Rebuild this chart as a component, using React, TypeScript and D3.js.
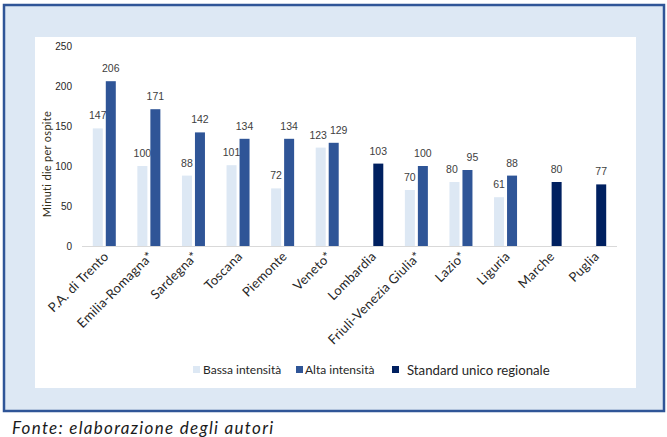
import * as d3 from 'd3';

const categories = [
  'P.A. di Trento',
  'Emilia-Romagna*',
  'Sardegna*',
  'Toscana',
  'Piemonte',
  'Veneto*',
  'Lombardia',
  'Friuli-Venezia Giulia*',
  'Lazio*',
  'Liguria',
  'Marche',
  'Puglia',
];
const bassaIntensita: (number | null)[] = [147, 100, 88, 101, 72, 123, null, 70, 80, 61, null, null];
const altaIntensita: (number | null)[] = [206, 171, 142, 134, 134, 129, null, 100, 95, 88, null, null];
const standardUnico: (number | null)[] = [null, null, null, null, null, null, 103, null, null, null, 80, 77];
const yTicks = [0, 50, 100, 150, 200, 250];
const legendItems = [
  { label: 'Bassa intensità', color: '#dde8f4', x: 193, textX: 203, size: 12 },
  { label: 'Alta intensità', color: '#2f5597', x: 296, textX: 305, size: 12 },
  { label: 'Standard unico regionale', color: '#002060', x: 392, textX: 407, size: 13.2 },
];

const W = 667;
const H = 437;
const labelFont = '"Liberation Sans", Arial, sans-serif';
const gothicFont = 'Lato, "Open Sans", sans-serif';

export default function App() {
  const x = d3.scaleBand<string>().domain(categories).range([82, 617]);
  const y = d3.scaleLinear().domain([0, 250]).range([246, 46]);
  const barW = 10;

  const bars: { x: number; v: number; color: string; nudge: number }[] = [];
  categories.forEach((c, i) => {
    const center = (x(c) ?? 0) + x.bandwidth() / 2;
    const b = bassaIntensita[i];
    const a = altaIntensita[i];
    const s = standardUnico[i];
    // labels of a pair at nearly the same height get pushed apart
    const clash = b !== null && a !== null && Math.abs(y(a) - y(b)) < 12;
    if (b !== null) bars.push({ x: center - 11.5, v: b, color: '#dde8f4', nudge: clash ? -2.5 : 0 });
    if (a !== null) bars.push({ x: center + 1.5, v: a, color: '#2f5597', nudge: clash ? 5 : 0 });
    if (s !== null) bars.push({ x: center + 1.5, v: s, color: '#002060', nudge: 0 });
  });

  return (
    <svg
      width={W}
      height={H}
      viewBox={`0 0 ${W} ${H}`}
      style={{ position: 'absolute', left: 0, top: 0, display: 'block', background: '#fff' }}
    >
      <rect x={4} y={5} width={660} height={406} fill="#dde8f4" stroke="#2f5597" strokeWidth={2.5} />
      <rect x={35} y={37} width={601} height={351} fill="#ffffff" />

      {yTicks.map((t) => (
        <text
          key={t}
          x={72}
          y={y(t)}
          dy="0.35em"
          textAnchor="end"
          fontSize={10}
          fontFamily={labelFont}
          fill="#262626"
        >
          {t}
        </text>
      ))}

      <text
        transform="translate(47,164) rotate(-90)"
        textAnchor="middle"
        dy="0.35em"
        fontSize={11}
        letterSpacing={0.3}
        fontFamily={gothicFont}
        fill="#33301a"
      >
        Minuti die per ospite
      </text>

      {bars.map((b, i) => (
        <g key={i}>
          <rect x={b.x} y={y(b.v)} width={barW} height={y(0) - y(b.v)} fill={b.color} />
          <text
            x={b.x + barW / 2 + b.nudge}
            y={y(b.v) - 9}
            textAnchor="middle"
            fontSize={10.5}
            fontFamily={labelFont}
            fill="#404040"
          >
            {b.v}
          </text>
        </g>
      ))}

      <line x1={82} x2={617} y1={y(0) + 0.5} y2={y(0) + 0.5} stroke="#d9d9d9" strokeWidth={1} />

      {categories.map((c) => {
        const cx = (x(c) ?? 0) + x.bandwidth() / 2 + 2;
        return (
          <text
            key={c}
            transform={`translate(${cx},${254}) rotate(-45)`}
            textAnchor="end"
            dy="0.35em"
            fontSize={13}
            letterSpacing={0.3}
            fontFamily={gothicFont}
            fill="#262626"
          >
            {c}
          </text>
        );
      })}

      {legendItems.map((l) => (
        <g key={l.label}>
          <rect x={l.x} y={366} width={7} height={7} fill={l.color} />
          <text
            x={l.textX}
            y={370}
            dy="0.35em"
            fontSize={l.size}
            fontFamily={gothicFont}
            fill="#262626"
          >
            {l.label}
          </text>
        </g>
      ))}

      <text
        x={12}
        y={428}
        dy="0.35em"
        fontSize={17}
        letterSpacing={1.3}
        fontStyle="italic"
        fontFamily={gothicFont}
        fill="#1a1a1a"
      >
        Fonte: elaborazione degli autori
      </text>
    </svg>
  );
}
